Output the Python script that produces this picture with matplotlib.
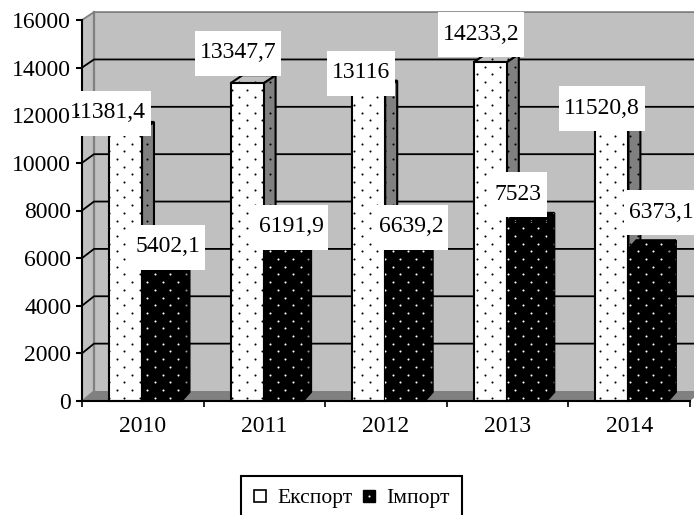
import numpy as np
from matplotlib import pyplot as plt
from matplotlib.lines import Line2D
from matplotlib.path import Path
from matplotlib.patches import Polygon
from matplotlib.transforms import IdentityTransform

years = ['2010', '2011', '2012', '2013', '2014']
export_values = [11381.4, 13347.7, 13116, 14233.2, 11520.8]
import_values = [5402.1, 6191.9, 6639.2, 7523, 6373.1]
export_labels = ['11381,4', '13347,7', '13116', '14233,2', '11520,8']
import_labels = ['5402,1', '6191,9', '6639,2', '7523', '6373,1']
y_ticks = [0, 2000, 4000, 6000, 8000, 10000, 12000, 14000, 16000]

# label centres in image pixels (x, y from the top)
export_label_pos = [(108, 113), (238, 53), (361, 73), (481, 34), (602, 108)]
import_label_pos = [(168, 247), (291, 227), (411, 227), (518, 194), (661, 212)]

W, H = 694, 515
LEFT, RIGHT, TOP, BOTTOM = 82, 690, 20, 401
PX_X = len(years) / (RIGHT - LEFT)   # data units per pixel
PX_Y = 16000 / (BOTTOM - TOP)

plt.rcParams['font.family'] = ['Liberation Serif', 'DejaVu Serif']

fig = plt.figure(figsize=(W / 100, H / 100), dpi=100)
ax = fig.add_axes([LEFT / W, 1 - BOTTOM / H, (RIGHT - LEFT) / W, (BOTTOM - TOP) / H])
ax.set_xlim(0, len(years))
ax.set_ylim(0, 16000)
ax.patch.set_visible(False)

# dot lattice for the fill pattern, in pixels
gx, gy = np.meshgrid(np.arange(-1, 47), np.arange(-1, 70))
dot_x = (gx * 15.33 + (gy % 2) * 7.66 + 9.5).ravel()
dot_y = (gy * 7.7 + 1.9).ravel()


def add_dots(patch, color):
    dots = ax.scatter(dot_x, dot_y, s=2.2, c=color, linewidths=0, marker='o',
                      transform=IdentityTransform(), zorder=patch.get_zorder())
    dots.set_clip_path(patch)


def face(points, fc, z, dots=None):
    p = Polygon(points, closed=True, facecolor=fc, edgecolor='black', linewidth=1.5,
                zorder=z, clip_on=False, joinstyle='miter')
    ax.add_patch(p)
    if dots:
        add_dots(p, dots)
    return p


# walls and floor
wall_dx = 12 * PX_X
wall_dy = 10 * PX_Y
back_scale = 0.9945


def back_y(v):
    return v * back_scale + wall_dy


wall_kw = dict(closed=True, linewidth=0, clip_on=False, zorder=0.2)
ax.add_patch(Polygon([(wall_dx, back_y(0)), (5 + wall_dx, back_y(0)),
                      (5 + wall_dx, back_y(16000)), (wall_dx, back_y(16000))],
                     facecolor='#c0c0c0', **wall_kw))
ax.add_patch(Polygon([(0, 0), (wall_dx, back_y(0)), (wall_dx, back_y(16000)), (0, 16000)],
                     facecolor='#c0c0c0', **wall_kw))
ax.add_patch(Polygon([(0, 0), (5, 0), (5 + wall_dx, back_y(0)), (wall_dx, back_y(0))],
                     facecolor='#808080', **wall_kw))
ax.plot([0, wall_dx, wall_dx, 5 + wall_dx], [16000, back_y(16000), back_y(16000), back_y(16000)],
        color='#808080', lw=1.3, clip_on=False, zorder=0.3)
ax.plot([wall_dx, wall_dx], [back_y(0), back_y(16000)], color='#808080', lw=1.6,
        clip_on=False, zorder=0.3)
ax.plot([0, wall_dx], [0, back_y(0)], color='#808080', lw=1, clip_on=False, zorder=0.3)
for t in y_ticks[1:-1]:
    ax.plot([0, wall_dx, 5 + wall_dx], [t, back_y(t), back_y(t)], color='black', lw=1.3,
            clip_on=False, zorder=0.4)

# bars
ex_left, ex_w = 0.222, 33 * PX_X
im_w = 39.5 * PX_X
ex_dx, ex_dy = 12 * PX_X, 8 * PX_Y
im_dx, im_dy = 8 * PX_X, 9 * PX_Y

for i, (ev, iv) in enumerate(zip(export_values, import_values)):
    x0 = i + ex_left
    x1 = x0 + ex_w
    x2 = x1 + im_w
    z = 1 + i * 0.01
    face([(x1, 0), (x1 + ex_dx, ex_dy), (x1 + ex_dx, ev + ex_dy), (x1, ev)], '#808080', z, 'black')
    face([(x0, ev), (x0 + ex_dx, ev + ex_dy), (x1 + ex_dx, ev + ex_dy), (x1, ev)], '#c0c0c0', z, 'black')
    front = ax.bar(x0, ev, ex_w, align='edge', facecolor='white', edgecolor='black',
                   linewidth=1.5, zorder=z + 0.001, clip_on=False)[0]
    add_dots(front, 'black')
    face([(x2, 0), (x2 + im_dx, im_dy), (x2 + im_dx, iv + im_dy), (x2, iv)], 'black', z + 0.002, '#909090')
    face([(x1, iv), (x1 + im_dx, iv + im_dy), (x2 + im_dx, iv + im_dy), (x2, iv)], 'black', z + 0.002, 'white')
    front = ax.bar(x1, iv, im_w, align='edge', facecolor='black', edgecolor='black',
                   linewidth=1.5, zorder=z + 0.003, clip_on=False)[0]
    add_dots(front, 'white')


def make_box(left_pad):
    # white box of a fixed height round the text
    def label_box(x0, y0, width, height, mutation_size):
        cy = y0 + height / 2
        xa, xb = x0 - left_pad, x0 + width + 5
        ya, yb = cy - 22.5, cy + 22.5
        return Path([(xa, ya), (xb, ya), (xb, yb), (xa, yb), (xa, ya)], closed=True)
    return label_box


def add_label(text, pos, left_pad=5):
    ax.annotate(text, xy=(0, 0), xytext=(pos[0], H - pos[1]), textcoords='figure pixels',
                ha='center', va='center', fontsize=17, zorder=5, annotation_clip=False,
                bbox=dict(boxstyle=make_box(left_pad), facecolor='white', edgecolor='none'))


for n, (text, pos) in enumerate(zip(export_labels + import_labels, export_label_pos + import_label_pos)):
    # the first label's box stops at the y axis
    add_label(text, pos, left_pad=-9 if n == 0 else 5)

# axes
for side in ['top', 'right']:
    ax.spines[side].set_visible(False)
for side in ['left', 'bottom']:
    ax.spines[side].set_linewidth(1.5)
    ax.spines[side].set_zorder(3)
ax.set_yticks(y_ticks)
ax.set_xticks(range(len(years) + 1))
ax.set_xticklabels([])
ax.set_xticks(np.arange(len(years)) + 0.5, labels=years, minor=True)
ax.tick_params(axis='y', labelsize=17, length=4.3, width=1.5, pad=3.5)
ax.tick_params(axis='x', which='major', length=4.3, width=1.2)
ax.tick_params(axis='x', which='minor', length=0, labelsize=17, pad=11)
ax.set_axisbelow(False)

# legend
h_export = Line2D([], [], ls='none', marker='s', ms=8, mfc='white', mec='black', mew=1.2)
h_import = Line2D([], [], ls='none', marker='s', ms=8.5, mfc='black', mec='black')
h_dot = Line2D([], [], ls='none', marker='o', ms=1.5, mfc='white', mec='none')
leg = fig.legend([h_export, (h_import, h_dot)], ['Експорт', 'Імпорт'],
                 loc='lower left', bbox_to_anchor=(241 / W, -0.010), bbox_transform=fig.transFigure,
                 ncol=2, fontsize=15.5, frameon=True, fancybox=False, edgecolor='black',
                 framealpha=1, handlelength=0.7, handletextpad=0.45, columnspacing=0.4,
                 borderaxespad=0, borderpad=0.55)
leg.get_frame().set_linewidth(1.5)

fig.savefig('out.png', dpi=100)
